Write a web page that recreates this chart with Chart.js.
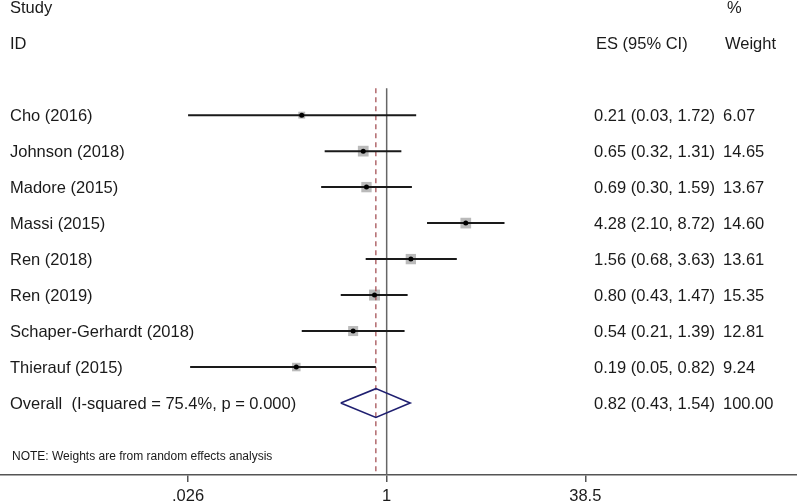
<!DOCTYPE html>
<html>
<head>
<meta charset="utf-8">
<script src="https://cdn.jsdelivr.net/npm/chart.js@4.4.1/dist/chart.umd.min.js"></script>
<style>
  html, body { margin: 0; padding: 0; background: #fff; }
  #forest { display: block; }
</style>
</head>
<body>
<canvas id="forest" width="797" height="504"></canvas>
<script>
// studies
var studies = ["Cho (2016)", "Johnson (2018)", "Madore (2015)", "Massi (2015)", "Ren (2018)", "Ren (2019)", "Schaper-Gerhardt (2018)", "Thierauf (2015)"];
var estimates = [0.21, 0.65, 0.69, 4.28, 1.56, 0.80, 0.54, 0.19];
var ciLow = [0.026, 0.32, 0.30, 2.10, 0.68, 0.43, 0.21, 0.027];
var ciHigh = [1.72, 1.31, 1.59, 8.72, 3.63, 1.47, 1.39, 0.82];
var weights = [6.07, 14.65, 13.67, 14.60, 13.61, 15.35, 12.81, 9.24];
var esLabels = ["0.21 (0.03, 1.72)", "0.65 (0.32, 1.31)", "0.69 (0.30, 1.59)", "4.28 (2.10, 8.72)", "1.56 (0.68, 3.63)", "0.80 (0.43, 1.47)", "0.54 (0.21, 1.39)", "0.19 (0.05, 0.82)"];
var weightLabels = ["6.07", "14.65", "13.67", "14.60", "13.61", "15.35", "12.81", "9.24"];

var overallLabel = "Overall  (I-squared = 75.4%, p = 0.000)";
var overallEstimate = 0.82;
var overallLow = 0.43;
var overallHigh = 1.54;
var overallEsLabel = "0.82 (0.43, 1.54)";
var overallWeightLabel = "100.00";
var noteText = "NOTE: Weights are from random effects analysis";

var xTicks = [0.026, 1, 38.5];
var xTickLabels = [".026", "1", "38.5"];

var FONT = '"Liberation Sans", Arial, sans-serif';
var overallRow = studies.length;

function buildCiLines() {
	var pts = [];
	for (var i = 0; i < studies.length; i++) {
		pts.push({x: ciLow[i], y: i});
		pts.push({x: ciHigh[i], y: i});
		pts.push({x: estimates[i], y: null});
	}
	return pts;
}

function buildDiamond() {
	var h = 0.4;
	return [
		{x: overallLow, y: overallRow},
		{x: overallEstimate, y: overallRow - h},
		{x: overallHigh, y: overallRow},
		{x: overallEstimate, y: overallRow + h},
		{x: overallLow, y: overallRow}
	];
}

var textPlugin = {
	id: 'forestText',
	afterDraw: function (chart) {
		var ctx = chart.ctx;
		var y = chart.scales.y;
		var rowY = function (r) { return y.getPixelForValue(r) + 1; };
		ctx.save();
		ctx.fillStyle = '#1a1a1a';
		ctx.textBaseline = 'middle';
		ctx.textAlign = 'left';
		ctx.font = '16.5px ' + FONT;

		ctx.fillText("Study", 10, rowY(-3));
		ctx.fillText("ID", 10, rowY(-2));
		ctx.fillText("%", 727, rowY(-3));
		ctx.fillText("ES (95% CI)", 596, rowY(-2));
		ctx.fillText("Weight", 725, rowY(-2));

		for (var i = 0; i < studies.length; i++) {
			var py = rowY(i);
			ctx.fillText(studies[i], 10, py);
			ctx.fillText(esLabels[i], 594, py);
			ctx.fillText(weightLabels[i], 723, py);
		}
		var po = rowY(overallRow);
		ctx.fillText(overallLabel, 10, po);
		ctx.fillText(overallEsLabel, 594, po);
		ctx.fillText(overallWeightLabel, 723, po);

		ctx.font = '12px ' + FONT;
		ctx.fillText(noteText, 12, rowY(overallRow + 1.47));
		ctx.restore();
	}
};

var canvas = document.getElementById('forest');

new Chart(canvas, {
	type: 'scatter',
	data: {
		datasets: [
			{
				label: 'point',
				data: estimates.map(function (v, i) { return {x: v, y: i}; }),
				pointStyle: 'circle',
				pointRadius: 2.5,
				backgroundColor: '#000',
				borderWidth: 0
			},
			{
				label: 'ci',
				data: buildCiLines(),
				showLine: true,
				spanGaps: false,
				borderColor: '#1a1a1a',
				borderWidth: 2,
				pointRadius: 0
			},
			{
				label: 'overall',
				data: buildDiamond(),
				showLine: true,
				borderColor: '#1f1f70',
				borderWidth: 1.6,
				pointRadius: 0,
				tension: 0
			},
			{
				label: 'overall line',
				data: [{x: overallEstimate, y: -0.75}, {x: overallEstimate, y: 10}],
				showLine: true,
				borderColor: '#9e4449',
				borderWidth: 1.2,
				borderDash: [5, 4],
				pointRadius: 0
			},
			{
				label: 'null line',
				data: [{x: 1, y: -0.75}, {x: 1, y: 10}],
				showLine: true,
				borderColor: '#666',
				borderWidth: 1.5,
				pointRadius: 0
			},
			{
				label: 'weight box',
				data: estimates.map(function (v, i) { return {x: v, y: i}; }),
				pointStyle: 'rect',
				pointRadius: weights.map(function (w) { return 2.8 * Math.sqrt(w) / Math.SQRT2; }),
				backgroundColor: '#bababa',
				borderWidth: 0
			}
		]
	},
	options: {
		responsive: false,
		animation: false,
		devicePixelRatio: 1,
		layout: { padding: 0, autoPadding: false },
		plugins: {
			legend: { display: false },
			tooltip: { enabled: false }
		},
		scales: {
			x: {
				type: 'logarithmic',
				min: 0.00082,
				max: 1884,
				afterBuildTicks: function (s) {
					s.ticks = xTicks.map(function (v) { return {value: v}; });
				},
				afterFit: function (s) { s.height = 29; },
				ticks: {
					callback: function (v, i) { return xTickLabels[i]; },
					font: { family: FONT, size: 16.5 },
					color: '#1a1a1a',
					padding: 5,
					maxRotation: 0,
					autoSkip: false
				},
				grid: {
					drawOnChartArea: false,
					tickLength: 7,
					color: '#555',
					lineWidth: 1.5
				},
				border: { color: '#555', width: 1.5 }
			},
			y: {
				type: 'linear',
				reverse: true,
				min: -3.2,
				max: 10,
				display: false
			}
		}
	},
	plugins: [textPlugin]
});
</script>
</body>
</html>
